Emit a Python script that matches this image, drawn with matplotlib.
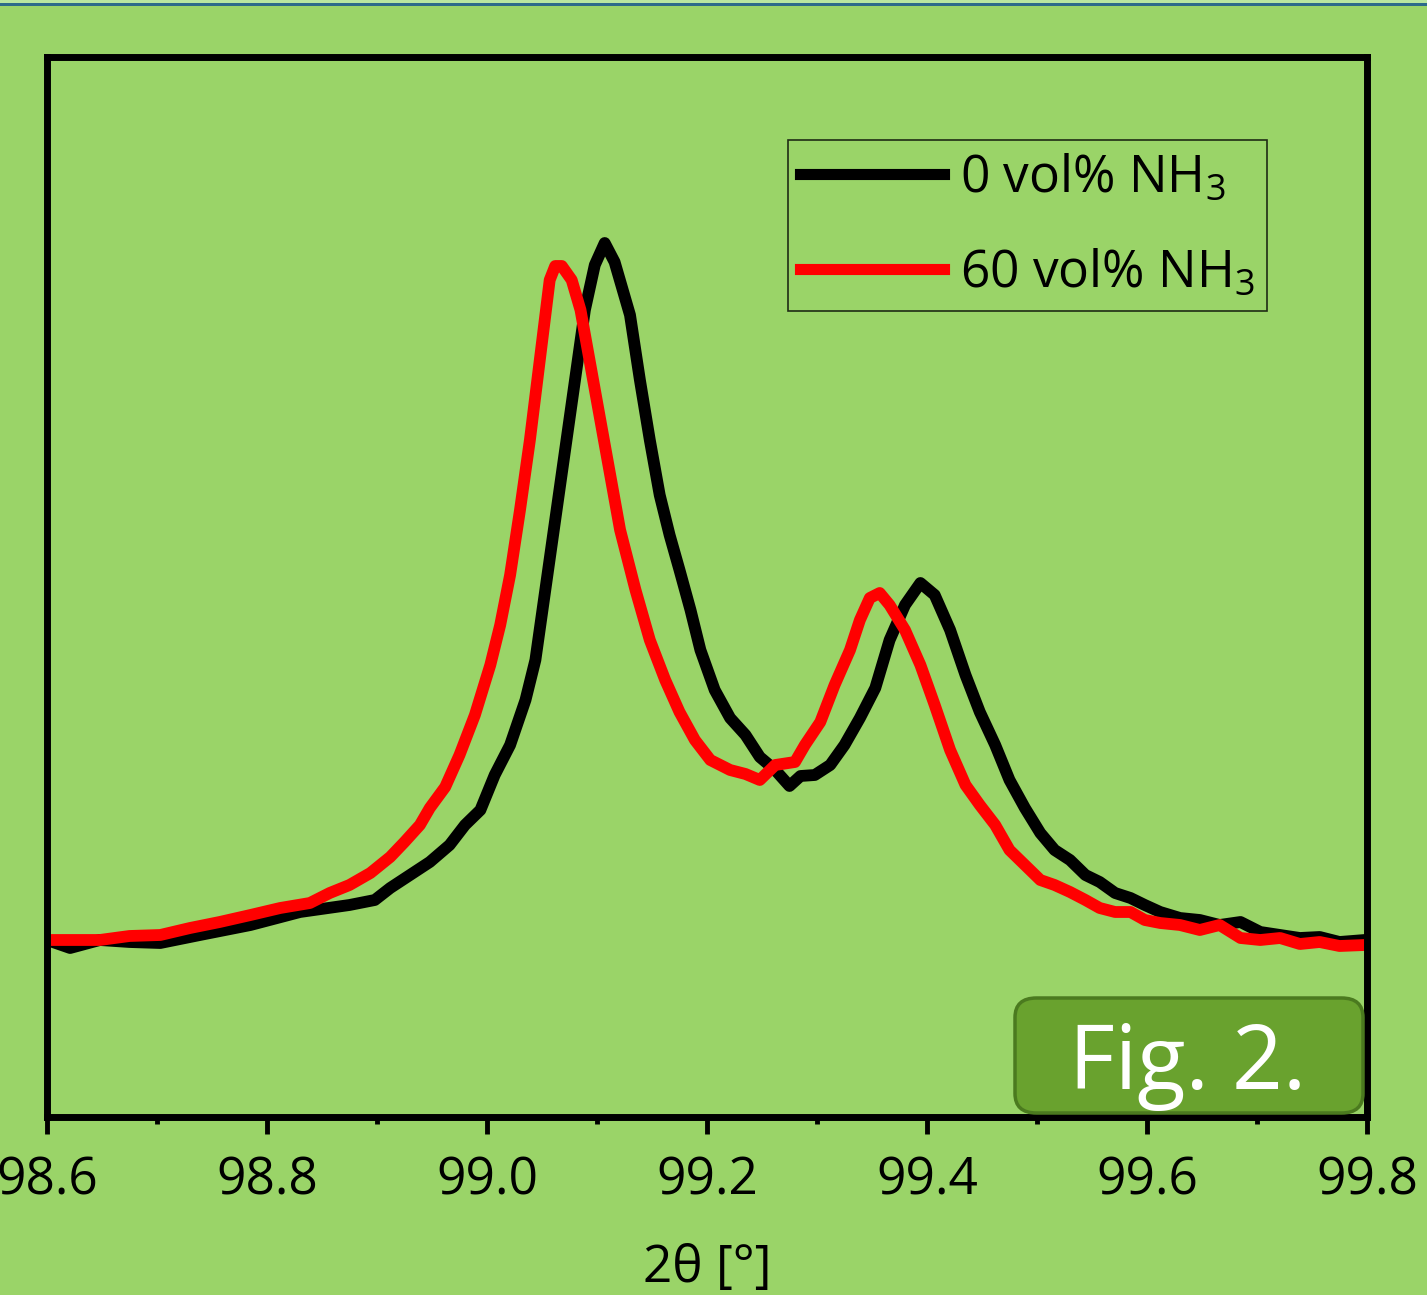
import matplotlib
matplotlib.use("Agg")
import matplotlib.pyplot as plt
from matplotlib.patches import FancyBboxPatch, Rectangle
from matplotlib.ticker import MultipleLocator

plt.rcParams['font.family'] = ['Open Sans', 'DejaVu Sans']
plt.rcParams['mathtext.fontset'] = 'custom'
plt.rcParams['mathtext.rm'] = 'Open Sans'
plt.rcParams['mathtext.it'] = 'Open Sans:italic'

# ---- data (2theta in degrees, intensity in arbitrary units) ----
tt_0 = [98.600, 98.621, 98.648, 98.675, 98.703, 98.739, 98.785, 98.830, 98.875, 98.898,
        98.912, 98.930, 98.948, 98.966, 98.980, 98.994, 99.007, 99.021, 99.035, 99.044,
        99.053, 99.062, 99.071, 99.080, 99.089, 99.098, 99.107, 99.116, 99.130, 99.139,
        99.148, 99.157, 99.166, 99.175, 99.185, 99.194, 99.207, 99.221, 99.235, 99.248,
        99.262, 99.275, 99.285, 99.298, 99.312, 99.325, 99.339, 99.353, 99.366, 99.380,
        99.394, 99.407, 99.421, 99.435, 99.448, 99.462, 99.475, 99.489, 99.503, 99.516,
        99.530, 99.544, 99.557, 99.571, 99.585, 99.598, 99.612, 99.630, 99.648, 99.666,
        99.685, 99.703, 99.721, 99.739, 99.757, 99.775, 99.798]
int_0 = [177, 169, 177, 175, 174, 182, 192, 205, 212, 217,
         229, 242, 255, 272, 292, 307, 342, 372, 417, 457,
         527, 597, 667, 737, 807, 852, 874, 855, 802, 737,
         677, 622, 582, 547, 507, 467, 427, 399, 382, 360,
         347, 331, 341, 342, 352, 372, 399, 429, 477, 512,
         534, 522, 487, 442, 405, 372, 337, 309, 284, 267,
         257, 242, 235, 224, 219, 212, 205, 199, 197, 192,
         195, 185, 182, 179, 180, 175, 177]

tt_60 = [98.600, 98.621, 98.648, 98.675, 98.703, 98.730, 98.757, 98.785, 98.812, 98.839,
         98.857, 98.875, 98.894, 98.912, 98.925, 98.939, 98.948, 98.962, 98.975, 98.989,
         99.003, 99.012, 99.021, 99.030, 99.039, 99.048, 99.057, 99.062, 99.068, 99.077,
         99.085, 99.094, 99.103, 99.112, 99.121, 99.135, 99.148, 99.162, 99.175, 99.189,
         99.203, 99.221, 99.235, 99.248, 99.262, 99.280, 99.289, 99.303, 99.316, 99.330,
         99.339, 99.348, 99.357, 99.366, 99.380, 99.394, 99.407, 99.421, 99.435, 99.448,
         99.462, 99.475, 99.489, 99.503, 99.516, 99.530, 99.544, 99.557, 99.571, 99.585,
         99.598, 99.612, 99.630, 99.648, 99.666, 99.685, 99.703, 99.721, 99.739, 99.757,
         99.775, 99.798]
int_60 = [177, 177, 177, 181, 182, 189, 195, 202, 209, 214,
          224, 232, 244, 260, 275, 292, 309, 330, 362, 402,
          452, 492, 542, 607, 677, 757, 837, 851, 851, 837,
          807, 752, 697, 642, 587, 527, 477, 437, 405, 377,
          357, 347, 343, 337, 352, 355, 372, 395, 432, 467,
          497, 519, 524, 512, 487, 452, 412, 367, 332, 312,
          292, 267, 252, 237, 232, 225, 217, 209, 205, 205,
          197, 194, 192, 187, 192, 179, 177, 179, 173, 175,
          171, 172]

labels = [r'0 vol% NH$_\mathregular{3}$', r'60 vol% NH$_\mathregular{3}$']
colors = ['#000000', '#FF0000']
xticks = [98.6, 98.8, 99.0, 99.2, 99.4, 99.6, 99.8]
xlabel = '2θ [°]'
badge = 'Fig. 2.'

BG = '#9AD468'

fig = plt.figure(figsize=(14.27, 12.95), dpi=100, facecolor=BG)
ax = fig.add_axes([47/1427, 1 - 1117/1295, 1320/1427, 1060/1295])
ax.set_facecolor(BG)

ax.plot(tt_0, int_0, color=colors[0], lw=8.5, label=labels[0], solid_joinstyle='round')
ax.plot(tt_60, int_60, color=colors[1], lw=8.5, label=labels[1], solid_joinstyle='round')

ax.set_xlim(98.6, 99.8)
ax.set_ylim(0, 1060)
ax.set_yticks([])
ax.set_xticks(xticks)
ax.set_xticklabels([f'{v:.1f}' for v in xticks])
ax.xaxis.set_minor_locator(MultipleLocator(0.1))
ax.tick_params(axis='x', which='major', direction='out', length=12, width=3.5,
               labelsize=37, pad=16, color='black')
ax.tick_params(axis='x', which='minor', direction='out', length=5, width=3.5, color='black')
for s in ax.spines.values():
    s.set_linewidth(5)
    s.set_color('black')
ax.set_xlabel(xlabel, fontsize=37, labelpad=26)

leg = ax.legend(loc='upper left', bbox_to_anchor=(0.561, 0.9217), fontsize=37,
                frameon=True, fancybox=False, edgecolor='black', facecolor='none',
                handlelength=2.8, handletextpad=0.3, borderpad=0.25, labelspacing=0.85,
                borderaxespad=0)
leg.get_frame().set_linewidth(1.2)
for h in leg.get_lines():
    h.set_linewidth(8)

# badge
box = FancyBboxPatch((1015/1427, 1 - 1113/1295), (1363 - 1015)/1427, (1113 - 998)/1295,
                     boxstyle='round,pad=0,rounding_size=0.015', transform=fig.transFigure,
                     facecolor='#69A22E', edgecolor='#4B7A1F', linewidth=2.5, zorder=5)
fig.add_artist(box)
fig.text(1188/1427, 1 - 1066/1295, badge, color='white', fontsize=64,
         ha='center', va='center', zorder=6)

# top stripe
fig.add_artist(Rectangle((0, 1 - 3/1295), 1, 3/1295, transform=fig.transFigure,
                         facecolor='#B8E6A0', edgecolor='none'))
fig.add_artist(Rectangle((0, 1 - 6/1295), 1, 3.5/1295, transform=fig.transFigure,
                         facecolor='#2C6B8A', edgecolor='none'))

fig.savefig('out.png', dpi=100, facecolor=BG)
